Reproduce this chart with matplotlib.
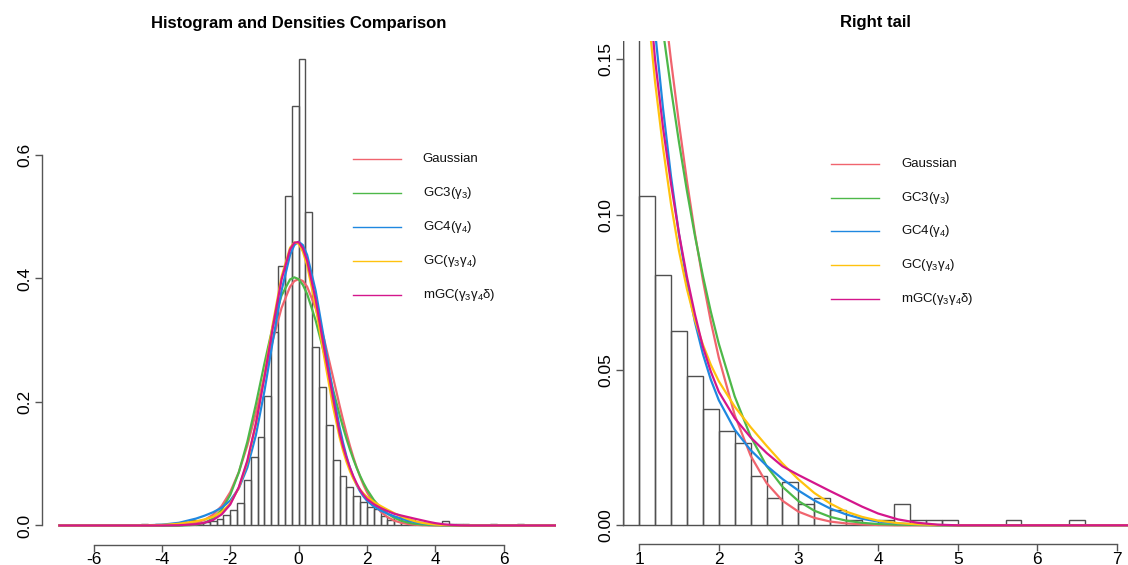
import numpy as np
import matplotlib
matplotlib.use('Agg')
import matplotlib.pyplot as plt

plt.rcParams['font.family'] = ['Liberation Sans', 'DejaVu Sans']
plt.rcParams['mathtext.fontset'] = 'custom'
plt.rcParams['mathtext.rm'] = 'Liberation Sans'
plt.rcParams['mathtext.it'] = 'Liberation Sans'
plt.rcParams['mathtext.bf'] = 'Liberation Sans:bold'

# histogram of standardized returns, bins of 0.2 starting at -4.6 (density scale)
bin_start = -4.6
bin_width = 0.2
hist_density = [0.0031, 0.0, 0.0016, 0.0016, 0.0, 0.0031, 0.0047, 0.0094,
                0.0047, 0.0062, 0.0078, 0.0109, 0.0172, 0.025, 0.036, 0.073,
                0.111, 0.143, 0.210, 0.314, 0.420, 0.534, 0.680, 0.755,
                0.507, 0.289, 0.224, 0.163, 0.106, 0.0806, 0.0627, 0.0481,
                0.0374, 0.0305, 0.0266, 0.0160, 0.0089, 0.0140, 0.0070, 0.0089,
                0.0049, 0.0016, 0.0, 0.0016, 0.0070, 0.0016, 0.0016, 0.0016,
                0.0, 0.0, 0.0, 0.0016, 0.0, 0.0, 0.0, 0.0016]

# fitted densities, read at these x positions
x_grid = [-7, -5, -4.5, -4, -3.5, -3, -2.75, -2.5, -2.25, -2, -1.75, -1.5,
          -1.25, -1, -0.75, -0.5, -0.25, -0.125, 0, 0.125, 0.25, 0.5, 0.75, 1,
          1.2, 1.3, 1.4, 1.5, 1.6, 1.7, 1.8, 1.9, 2, 2.2, 2.4, 2.6, 2.8, 3,
          3.2, 3.4, 3.6, 3.8, 4, 4.25, 4.5, 4.75, 5, 8]

dens_gauss = [0, 0, 0.00002, 0.00013, 0.00087, 0.0044, 0.0091, 0.0175, 0.0317,
              0.0540, 0.0863, 0.1295, 0.1826, 0.2420, 0.3011, 0.3521, 0.3867,
              0.3958, 0.3989, 0.3958, 0.3867, 0.3521, 0.3011, 0.2420, 0.1942,
              0.1714, 0.1497, 0.1295, 0.1109, 0.0940, 0.0790, 0.0656, 0.0540,
              0.0355, 0.0224, 0.0136, 0.0079, 0.0044, 0.0024, 0.0012, 0.0006,
              0.0003, 0.0001, 0, 0, 0, 0, 0]

dens_gc3 = [0, 0, 0, -0.0002, -0.0003, 0.0011, 0.0043, 0.0116, 0.0256, 0.0495,
            0.0859, 0.1356, 0.1963, 0.2622, 0.3240, 0.3723, 0.3985, 0.4019,
            0.3989, 0.3897, 0.3749, 0.3319, 0.2782, 0.2218, 0.1790, 0.1592,
            0.1406, 0.1234, 0.1077, 0.0933, 0.0804, 0.0688, 0.0585, 0.0415,
            0.0286, 0.0191, 0.0124, 0.0078, 0.0047, 0.0027, 0.0015, 0.0008,
            0.0004, 0.0002, 0.0001, 0, 0, 0]

dens_gc4 = [0, 0, 0.0003, 0.0012, 0.0044, 0.0112, 0.0159, 0.0215, 0.0289,
            0.0403, 0.0601, 0.0938, 0.1462, 0.2175, 0.3002, 0.3800, 0.4382,
            0.4541, 0.4596, 0.4541, 0.4382, 0.3800, 0.3002, 0.2175, 0.1591,
            0.1342, 0.1124, 0.0938, 0.0783, 0.0655, 0.0552, 0.0469, 0.0403,
            0.0308, 0.0242, 0.0192, 0.0149, 0.0112, 0.0080, 0.0054, 0.0035,
            0.0021, 0.0012, 0.0006, 0.0003, 0.0001, 0, 0]

dens_gc = [0, 0, 0.0002, 0.0008, 0.0028, 0.0068, 0.0099, 0.0142, 0.0217,
           0.0356, 0.0610, 0.1030, 0.1645, 0.2430, 0.3278, 0.4027, 0.4497,
           0.4584, 0.4564, 0.4436, 0.4213, 0.3543, 0.2727, 0.1946, 0.1428,
           0.1216, 0.1035, 0.0884, 0.0761, 0.0661, 0.0582, 0.0517, 0.0464,
           0.0382, 0.0316, 0.0256, 0.0199, 0.0148, 0.0104, 0.0070, 0.0044,
           0.0027, 0.0015, 0.0007, 0.0003, 0.0001, 0, 0]

dens_mgc = [0, 0, 0, 0.0001, 0.0004, 0.0020, 0.0045, 0.0090, 0.0180, 0.0340,
            0.0620, 0.1050, 0.1650, 0.2400, 0.3220, 0.3980, 0.4470, 0.4580,
            0.4590, 0.4490, 0.4290, 0.3660, 0.2860, 0.2090, 0.1500, 0.1280,
            0.1100, 0.0940, 0.0800, 0.0680, 0.0575, 0.0495, 0.0430, 0.0345,
            0.0283, 0.0233, 0.0190, 0.0162, 0.0136, 0.0110, 0.0085, 0.0060,
            0.0038, 0.0019, 0.0008, 0.0002, 0, 0]

labels = ['Gaussian', r'GC3($\gamma_3$)', r'GC4($\gamma_4$)',
          r'GC($\gamma_3\gamma_4$)', r'mGC($\gamma_3\gamma_4$δ)']
colors = ['#F0646E', '#4DB849', '#1F88E0', '#FFC20E', '#D4168C']
curves = [dens_gauss, dens_gc3, dens_gc4, dens_gc, dens_mgc]

W, H = 1128, 565
fig = plt.figure(figsize=(W / 100, H / 100), dpi=100)


def add_axes_px(x0, ytop, x1, ybot):
    return fig.add_axes([x0 / W, (H - ybot) / H, (x1 - x0) / W, (ybot - ytop) / H])


def draw_panel(ax, box, xlim, ylim, xticks, yticks, ylabels, title, leg):
    edges = bin_start + bin_width * np.arange(len(hist_density))
    ax.bar(edges, hist_density, width=bin_width, align='edge', fill=False,
           edgecolor='#505050', linewidth=1.0, zorder=1)
    for yv, c in zip(curves, colors):
        ax.plot(x_grid, yv, color=c, lw=1.6, zorder=2, solid_joinstyle='round')
    ax.set_xlim(*xlim)
    ax.set_ylim(*ylim)

    for s in ['top', 'right']:
        ax.spines[s].set_visible(False)
    for s in ['bottom', 'left']:
        ax.spines[s].set_color('#555555')
        ax.spines[s].set_linewidth(1.0)
    ax.spines['bottom'].set_bounds(xticks[0], xticks[-1])
    ax.spines['left'].set_bounds(yticks[0], yticks[-1])
    ax.set_xticks(xticks)
    ax.set_xticklabels([str(t) for t in xticks])
    ax.set_yticks(yticks)
    ax.set_yticklabels(ylabels, rotation=90, va='center')
    ax.tick_params(axis='both', direction='out', length=5, width=1.0,
                   color='#555555', labelsize=12.5, labelcolor='black')
    ax.tick_params(axis='x', pad=0.5)
    ax.tick_params(axis='y', pad=2)
    ax.set_title(title, fontsize=12, fontweight='bold', pad=9.7)

    # legend without box, positions in pixels
    x0, ytop, x1, ybot = box
    lx0, lx1, tx, ry, dy = leg
    for i, (lab, c) in enumerate(zip(labels, colors)):
        py = ry + i * dy
        fy = (ybot - py) / (ybot - ytop)
        ax.plot([(lx0 - x0) / (x1 - x0), (lx1 - x0) / (x1 - x0)], [fy, fy],
                transform=ax.transAxes, color=c, lw=1.0, clip_on=False)
        ax.text((tx - x0) / (x1 - x0), fy, lab, transform=ax.transAxes,
                fontsize=9.5, ha='left', va='center', color='#111111')


# left panel
box_l = (42, 41, 556, 544.5)
ax1 = add_axes_px(*box_l)
draw_panel(ax1, box_l, (-7.509, 7.533), (-0.0308, 0.7846),
           [-6, -4, -2, 0, 2, 4, 6], [0.0, 0.2, 0.4, 0.6],
           ['0.0', '0.2', '0.4', '0.6'],
           'Histogram and Densities Comparison',
           (352.7, 400.7, 422.7, 159.3, 34.0))

# right panel: same data, zoom on the right tail
box_r = (623.2, 40.8, 1128, 544)
ax2 = add_axes_px(*box_r)
draw_panel(ax2, box_r, (0.8, 7.138), (-0.00602, 0.156),
           [1, 2, 3, 4, 5, 6, 7], [0.0, 0.05, 0.10, 0.15],
           ['0.00', '0.05', '0.10', '0.15'],
           'Right tail',
           (831.0, 879.3, 901.0, 164.0, 33.7))

fig.savefig('out.png', dpi=100)
